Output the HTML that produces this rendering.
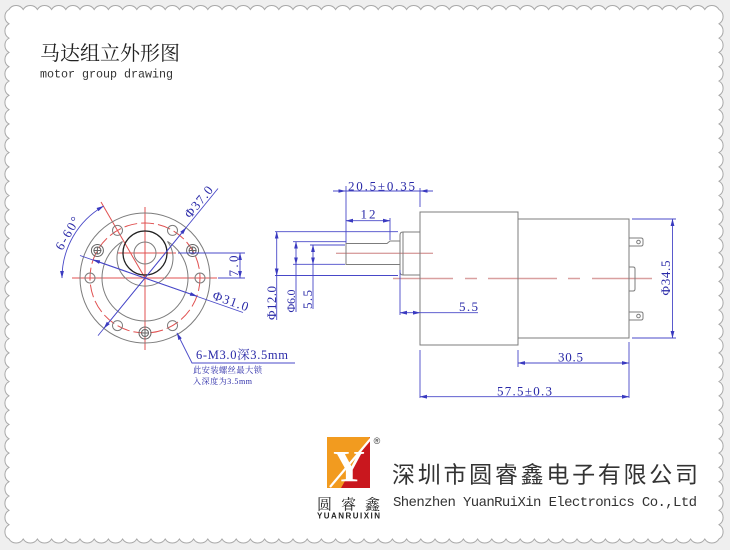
<!DOCTYPE html>
<html><head><meta charset="utf-8"><style>
html,body{margin:0;padding:0;width:730px;height:550px;overflow:hidden;background:#efefef}
svg{display:block}
.g{stroke:#7c7c7c;fill:none;stroke-width:1}
.b{stroke:#4848c8;fill:none;stroke-width:0.9}
.r{stroke:#e05050;fill:none;stroke-width:1}
.rp{stroke:#d9a0a0;fill:none;stroke-width:1.4}
.t{font-family:"Liberation Serif","Noto Serif CJK SC",serif;fill:#2a2aa8}
</style></head><body>
<svg width="730" height="550" viewBox="0 0 730 550" xmlns="http://www.w3.org/2000/svg">
<defs>
<marker id="ar" markerUnits="userSpaceOnUse" markerWidth="8" markerHeight="5" refX="7" refY="2.5" orient="auto-start-reverse" viewBox="0 0 8 5"><path d="M0,0.6 L7.5,2.5 L0,4.4z" fill="#3a3ac0"/></marker>
</defs>

<!-- scalloped sheet -->
<path fill="#fff" stroke="#a8a8a8" stroke-width="1" d="M9,9.5
a8.3 8.3 0 0 1 14.2 0 8.3 8.3 0 0 1 14.2 0 8.3 8.3 0 0 1 14.2 0 8.3 8.3 0 0 1 14.2 0 8.3 8.3 0 0 1 14.2 0 8.3 8.3 0 0 1 14.2 0 8.3 8.3 0 0 1 14.2 0 8.3 8.3 0 0 1 14.2 0 8.3 8.3 0 0 1 14.2 0 8.3 8.3 0 0 1 14.2 0
8.3 8.3 0 0 1 14.2 0 8.3 8.3 0 0 1 14.2 0 8.3 8.3 0 0 1 14.2 0 8.3 8.3 0 0 1 14.2 0 8.3 8.3 0 0 1 14.2 0 8.3 8.3 0 0 1 14.2 0 8.3 8.3 0 0 1 14.2 0 8.3 8.3 0 0 1 14.2 0 8.3 8.3 0 0 1 14.2 0 8.3 8.3 0 0 1 14.2 0
8.3 8.3 0 0 1 14.2 0 8.3 8.3 0 0 1 14.2 0 8.3 8.3 0 0 1 14.2 0 8.3 8.3 0 0 1 14.2 0 8.3 8.3 0 0 1 14.2 0 8.3 8.3 0 0 1 14.2 0 8.3 8.3 0 0 1 14.2 0 8.3 8.3 0 0 1 14.2 0 8.3 8.3 0 0 1 14.2 0 8.3 8.3 0 0 1 14.2 0
8.3 8.3 0 0 1 14.2 0 8.3 8.3 0 0 1 14.2 0 8.3 8.3 0 0 1 14.2 0 8.3 8.3 0 0 1 14.2 0 8.3 8.3 0 0 1 14.2 0 8.3 8.3 0 0 1 14.2 0 8.3 8.3 0 0 1 14.2 0 8.3 8.3 0 0 1 14.2 0 8.3 8.3 0 0 1 14.2 0 8.3 8.3 0 0 1 14.2 0
8.3 8.3 0 0 1 14.2 0 8.3 8.3 0 0 1 14.2 0 8.3 8.3 0 0 1 14.2 0 8.3 8.3 0 0 1 14.2 0 8.3 8.3 0 0 1 14.2 0 8.3 8.3 0 0 1 14.2 0 8.3 8.3 0 0 1 14.2 0 8.3 8.3 0 0 1 14.2 0 8.3 8.3 0 0 1 14.2 0 8.3 8.3 0 0 1 14.2 0
8.3 8.3 0 0 1 0 14.31 8.3 8.3 0 0 1 0 14.31 8.3 8.3 0 0 1 0 14.31 8.3 8.3 0 0 1 0 14.31 8.3 8.3 0 0 1 0 14.31 8.3 8.3 0 0 1 0 14.31 8.3 8.3 0 0 1 0 14.31 8.3 8.3 0 0 1 0 14.31 8.3 8.3 0 0 1 0 14.31 8.3 8.3 0 0 1 0 14.31
8.3 8.3 0 0 1 0 14.31 8.3 8.3 0 0 1 0 14.31 8.3 8.3 0 0 1 0 14.31 8.3 8.3 0 0 1 0 14.31 8.3 8.3 0 0 1 0 14.31 8.3 8.3 0 0 1 0 14.31 8.3 8.3 0 0 1 0 14.31 8.3 8.3 0 0 1 0 14.31 8.3 8.3 0 0 1 0 14.31 8.3 8.3 0 0 1 0 14.31
8.3 8.3 0 0 1 0 14.31 8.3 8.3 0 0 1 0 14.31 8.3 8.3 0 0 1 0 14.31 8.3 8.3 0 0 1 0 14.31 8.3 8.3 0 0 1 0 14.31 8.3 8.3 0 0 1 0 14.31 8.3 8.3 0 0 1 0 14.31 8.3 8.3 0 0 1 0 14.31 8.3 8.3 0 0 1 0 14.31 8.3 8.3 0 0 1 0 14.31
8.3 8.3 0 0 1 0 14.31 8.3 8.3 0 0 1 0 14.31 8.3 8.3 0 0 1 0 14.31 8.3 8.3 0 0 1 0 14.31 8.3 8.3 0 0 1 0 14.31 8.3 8.3 0 0 1 0 14.31 8.3 8.3 0 0 1 0 14.31
8.3 8.3 0 0 1 -14.2 0 8.3 8.3 0 0 1 -14.2 0 8.3 8.3 0 0 1 -14.2 0 8.3 8.3 0 0 1 -14.2 0 8.3 8.3 0 0 1 -14.2 0 8.3 8.3 0 0 1 -14.2 0 8.3 8.3 0 0 1 -14.2 0 8.3 8.3 0 0 1 -14.2 0 8.3 8.3 0 0 1 -14.2 0 8.3 8.3 0 0 1 -14.2 0
8.3 8.3 0 0 1 -14.2 0 8.3 8.3 0 0 1 -14.2 0 8.3 8.3 0 0 1 -14.2 0 8.3 8.3 0 0 1 -14.2 0 8.3 8.3 0 0 1 -14.2 0 8.3 8.3 0 0 1 -14.2 0 8.3 8.3 0 0 1 -14.2 0 8.3 8.3 0 0 1 -14.2 0 8.3 8.3 0 0 1 -14.2 0 8.3 8.3 0 0 1 -14.2 0
8.3 8.3 0 0 1 -14.2 0 8.3 8.3 0 0 1 -14.2 0 8.3 8.3 0 0 1 -14.2 0 8.3 8.3 0 0 1 -14.2 0 8.3 8.3 0 0 1 -14.2 0 8.3 8.3 0 0 1 -14.2 0 8.3 8.3 0 0 1 -14.2 0 8.3 8.3 0 0 1 -14.2 0 8.3 8.3 0 0 1 -14.2 0 8.3 8.3 0 0 1 -14.2 0
8.3 8.3 0 0 1 -14.2 0 8.3 8.3 0 0 1 -14.2 0 8.3 8.3 0 0 1 -14.2 0 8.3 8.3 0 0 1 -14.2 0 8.3 8.3 0 0 1 -14.2 0 8.3 8.3 0 0 1 -14.2 0 8.3 8.3 0 0 1 -14.2 0 8.3 8.3 0 0 1 -14.2 0 8.3 8.3 0 0 1 -14.2 0 8.3 8.3 0 0 1 -14.2 0
8.3 8.3 0 0 1 -14.2 0 8.3 8.3 0 0 1 -14.2 0 8.3 8.3 0 0 1 -14.2 0 8.3 8.3 0 0 1 -14.2 0 8.3 8.3 0 0 1 -14.2 0 8.3 8.3 0 0 1 -14.2 0 8.3 8.3 0 0 1 -14.2 0 8.3 8.3 0 0 1 -14.2 0 8.3 8.3 0 0 1 -14.2 0 8.3 8.3 0 0 1 -14.2 0
8.3 8.3 0 0 1 0 -14.31 8.3 8.3 0 0 1 0 -14.31 8.3 8.3 0 0 1 0 -14.31 8.3 8.3 0 0 1 0 -14.31 8.3 8.3 0 0 1 0 -14.31 8.3 8.3 0 0 1 0 -14.31 8.3 8.3 0 0 1 0 -14.31 8.3 8.3 0 0 1 0 -14.31 8.3 8.3 0 0 1 0 -14.31 8.3 8.3 0 0 1 0 -14.31
8.3 8.3 0 0 1 0 -14.31 8.3 8.3 0 0 1 0 -14.31 8.3 8.3 0 0 1 0 -14.31 8.3 8.3 0 0 1 0 -14.31 8.3 8.3 0 0 1 0 -14.31 8.3 8.3 0 0 1 0 -14.31 8.3 8.3 0 0 1 0 -14.31 8.3 8.3 0 0 1 0 -14.31 8.3 8.3 0 0 1 0 -14.31 8.3 8.3 0 0 1 0 -14.31
8.3 8.3 0 0 1 0 -14.31 8.3 8.3 0 0 1 0 -14.31 8.3 8.3 0 0 1 0 -14.31 8.3 8.3 0 0 1 0 -14.31 8.3 8.3 0 0 1 0 -14.31 8.3 8.3 0 0 1 0 -14.31 8.3 8.3 0 0 1 0 -14.31 8.3 8.3 0 0 1 0 -14.31 8.3 8.3 0 0 1 0 -14.31 8.3 8.3 0 0 1 0 -14.31
8.3 8.3 0 0 1 0 -14.31 8.3 8.3 0 0 1 0 -14.31 8.3 8.3 0 0 1 0 -14.31 8.3 8.3 0 0 1 0 -14.31 8.3 8.3 0 0 1 0 -14.31 8.3 8.3 0 0 1 0 -14.31 8.3 8.3 0 0 1 0 -14.31 Z"/>

<!-- title -->
<text x="40" y="60" font-family="'Liberation Serif','Noto Serif CJK SC',serif" font-size="20" fill="#222" textLength="140">马达组立外形图</text>
<text x="40" y="77.5" font-family="'Liberation Mono',monospace" font-size="11.7" fill="#333" textLength="133">motor group drawing</text>

<!-- ===== LEFT VIEW ===== -->
<line x1="72" y1="278" x2="217" y2="278" class="r"/>
<line x1="145" y1="207" x2="145" y2="350" class="r"/>
<line x1="145" y1="278" x2="101" y2="202" class="r"/>
<line x1="118" y1="253" x2="176" y2="253" class="r"/>
<circle cx="145" cy="278" r="55" class="r" stroke-dasharray="13 4"/>

<circle cx="145" cy="278" r="65" class="g"/>
<path d="M122.5,241.4 A43,43 0 1 0 167.5,241.4" class="g"/>
<path d="M122.5,241.4 A28,28 0 1 0 167.5,241.4" class="g"/>
<circle cx="145" cy="253" r="22" stroke="#222" fill="none" stroke-width="1.3"/>
<circle cx="145" cy="253" r="11" class="g"/>

<g class="g">
<circle cx="200" cy="278" r="5"/>
<circle cx="172.5" cy="230.4" r="5"/>
<circle cx="117.5" cy="230.4" r="5"/>
<circle cx="90" cy="278" r="5"/>
<circle cx="117.5" cy="325.6" r="5"/>
<circle cx="172.5" cy="325.6" r="5"/>
</g>
<g stroke="#666" fill="none" stroke-width="1">
<circle cx="192.6" cy="250.5" r="6"/><circle cx="192.6" cy="250.5" r="3.5"/>
<path d="M188.6,250.5h8M192.6,246.5v8"/>
<circle cx="97.4" cy="250.5" r="6"/><circle cx="97.4" cy="250.5" r="3.5"/>
<path d="M93.4,250.5h8M97.4,246.5v8"/>
<circle cx="145" cy="333" r="6"/><circle cx="145" cy="333" r="3.5"/>
<path d="M141,333h8M145,329v8"/>
</g>

<!-- left view dimensions -->
<line x1="98" y1="335.6" x2="218" y2="188.5" class="b"/>
<line x1="103.9" y1="328.4" x2="186.1" y2="227.6" class="b" marker-start="url(#ar)" marker-end="url(#ar)"/>
<text transform="translate(203.5,206) rotate(-50.8)" y="-2" text-anchor="middle" class="t" font-size="13" textLength="37">Φ37.0</text>

<line x1="80" y1="255.5" x2="243" y2="312.5" class="b"/>
<line x1="93.1" y1="259.8" x2="196.9" y2="296.2" class="b" marker-start="url(#ar)" marker-end="url(#ar)"/>
<text transform="translate(228.5,307) rotate(19.3)" y="-2" text-anchor="middle" class="t" font-size="13" textLength="37">Φ31.0</text>

<line x1="178" y1="253" x2="245" y2="253" class="b"/>
<line x1="218" y1="278" x2="245" y2="278" class="b"/>
<line x1="240" y1="253" x2="240" y2="278" class="b" marker-start="url(#ar)" marker-end="url(#ar)"/>
<text transform="translate(238,266) rotate(-90)" text-anchor="middle" class="t" font-size="13" textLength="21">7.0</text>

<path d="M62,278 A83,83 0 0 1 103.5,206.1" class="b" marker-start="url(#ar)" marker-end="url(#ar)"/>
<text transform="translate(73,236.5) rotate(-60)" y="-2" text-anchor="middle" class="t" font-size="13" textLength="36">6-60°</text>

<polyline points="177,333 192,363 295,363" class="b" marker-start="url(#ar)"/>
<text x="196" y="359" class="t" font-size="12.5" textLength="92">6-M3.0深3.5mm</text>
<text x="193" y="373" class="t" font-size="8.3" textLength="69">此安装螺丝最大锁</text>
<text x="193" y="384" class="t" font-size="8" textLength="59">入深度为3.5mm</text>

<!-- ===== RIGHT VIEW ===== -->
<line x1="336" y1="253.3" x2="433" y2="253.3" class="rp"/>
<path d="M393,278.5H453M465,278.5H477M488,278.5H557M568,278.5H580M592,278.5H652" class="rp"/>

<g class="g">
<rect x="420" y="212" width="98" height="133"/>
<rect x="518" y="219" width="111" height="119"/>
<path d="M420,232H403Q400,232 400,235V272Q400,275 403,275H420"/>
<line x1="403" y1="232" x2="403" y2="275"/>
<path d="M400,241H390L387,243.5H346V264.5H400"/>
<path d="M629,238H641Q643,238 643,240V244Q643,246 641,246H629"/>
<circle cx="638.5" cy="242" r="1.8"/>
<path d="M629,312H641Q643,312 643,314V318Q643,320 641,320H629"/>
<circle cx="638.5" cy="316" r="1.8"/>
<path d="M629,267H633Q635,267 635,269V289Q635,291 633,291H629"/>
</g>

<!-- right view dimensions -->
<line x1="333" y1="191" x2="433" y2="191" class="b"/>
<line x1="346" y1="186" x2="346" y2="243" class="b"/>
<line x1="420" y1="188" x2="420" y2="207" class="b"/>
<polygon points="338.5,189.2 346,191 338.5,192.8" fill="#3a3ac0"/>
<polygon points="427.5,189.2 420,191 427.5,192.8" fill="#3a3ac0"/>
<text x="348" y="190.5" class="t" font-size="13" textLength="67">20.5±0.35</text>

<line x1="346" y1="220.7" x2="390" y2="220.7" class="b" marker-start="url(#ar)" marker-end="url(#ar)"/>
<line x1="390" y1="218" x2="390" y2="240" class="b"/>
<text x="368" y="218.5" text-anchor="middle" class="t" font-size="13" textLength="15">12</text>

<line x1="275" y1="231.7" x2="398" y2="231.7" class="b"/>
<line x1="275" y1="275.5" x2="398" y2="275.5" class="b"/>
<line x1="293" y1="241.7" x2="346" y2="241.7" class="b"/>
<line x1="310" y1="245" x2="345" y2="245" class="b"/>
<line x1="293" y1="264.3" x2="345" y2="264.3" class="b"/>

<line x1="276.7" y1="231.7" x2="276.7" y2="275.5" class="b" marker-start="url(#ar)" marker-end="url(#ar)"/>
<line x1="276.7" y1="275.5" x2="276.7" y2="320" class="b"/>
<text transform="translate(276,303) rotate(-90)" text-anchor="middle" class="t" font-size="13" textLength="34">Φ12.0</text>

<line x1="296" y1="241.7" x2="296" y2="264.3" class="b" marker-start="url(#ar)" marker-end="url(#ar)"/>
<line x1="296" y1="264.3" x2="296" y2="312" class="b"/>
<text transform="translate(295,301) rotate(-90)" text-anchor="middle" class="t" font-size="12" textLength="23">Φ6.0</text>

<line x1="313" y1="245" x2="313" y2="264.3" class="b" marker-start="url(#ar)" marker-end="url(#ar)"/>
<line x1="313" y1="264.3" x2="313" y2="309" class="b"/>
<text transform="translate(312,299.5) rotate(-90)" text-anchor="middle" class="t" font-size="13" textLength="19">5.5</text>

<line x1="400" y1="270" x2="400" y2="315" class="b"/>
<line x1="400" y1="312.7" x2="420" y2="312.7" class="b" marker-start="url(#ar)" marker-end="url(#ar)"/>
<line x1="420" y1="312.7" x2="478" y2="312.7" class="b"/>
<text x="459" y="311" class="t" font-size="13" textLength="19">5.5</text>

<line x1="518" y1="350" x2="518" y2="367" class="b"/>
<line x1="629" y1="342" x2="629" y2="398" class="b"/>
<line x1="420" y1="350" x2="420" y2="398" class="b"/>
<line x1="518" y1="363" x2="629" y2="363" class="b" marker-start="url(#ar)" marker-end="url(#ar)"/>
<text x="558" y="361.5" class="t" font-size="13" textLength="25">30.5</text>
<line x1="420" y1="396.7" x2="629" y2="396.7" class="b" marker-start="url(#ar)" marker-end="url(#ar)"/>
<text x="497" y="395.5" class="t" font-size="13" textLength="55">57.5±0.3</text>

<line x1="632" y1="219" x2="676" y2="219" class="b"/>
<line x1="632" y1="338" x2="676" y2="338" class="b"/>
<line x1="672.5" y1="219" x2="672.5" y2="338" class="b" marker-start="url(#ar)" marker-end="url(#ar)"/>
<text transform="translate(670,278) rotate(-90)" text-anchor="middle" class="t" font-size="13" textLength="35">Φ34.5</text>

<!-- ===== LOGO ===== -->
<rect x="327" y="437" width="43" height="51" fill="#f29b1f"/>
<polygon points="341,488 370,437 370,488" fill="#c9171e"/>
<line x1="330" y1="487" x2="373" y2="436" stroke="#fff" stroke-width="2.2"/>
<text x="349" y="481" text-anchor="middle" font-family="'Liberation Serif',serif" font-weight="bold" font-size="44" fill="#fff">Y</text>
<text x="377" y="444" text-anchor="middle" font-family="'Liberation Sans',sans-serif" font-size="9" fill="#333">®</text>
<text x="317" y="509.5" font-family="'Liberation Serif','Noto Serif CJK SC',serif" font-size="15" fill="#222" textLength="63">圆睿鑫</text>
<text x="317" y="518.5" font-family="'Liberation Sans',sans-serif" font-weight="bold" font-size="8" fill="#222" textLength="63">YUANRUIXIN</text>

<text x="392" y="482.5" font-family="'Liberation Sans','Noto Sans CJK SC',sans-serif" font-size="23" fill="#333" textLength="306">深圳市圆睿鑫电子有限公司</text>
<text x="393" y="506" font-family="'Liberation Mono',monospace" font-size="14" fill="#333" textLength="304">Shenzhen YuanRuiXin Electronics Co.,Ltd</text>
</svg>
</body></html>
